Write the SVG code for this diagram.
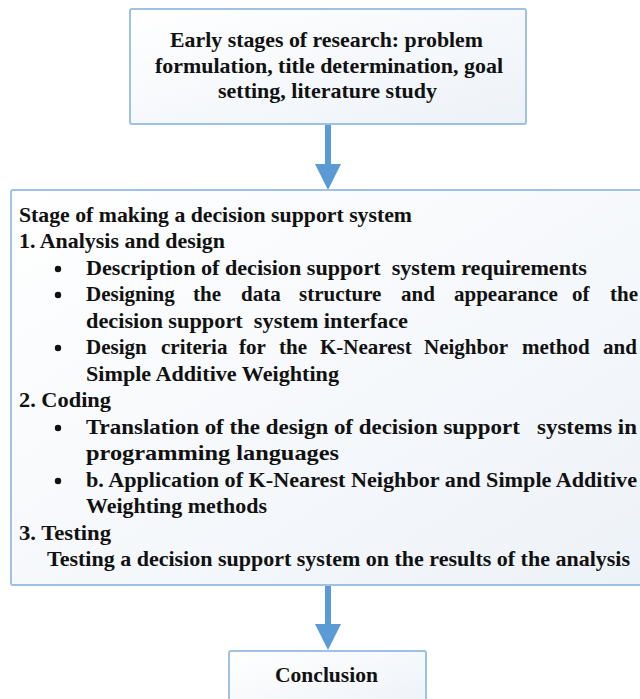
<svg xmlns="http://www.w3.org/2000/svg" width="640" height="699" viewBox="0 0 640 699">
<style>
.box{fill:url(#g);stroke:#9fc1e4;stroke-width:2}
.t{font-family:"Liberation Serif","Times New Roman",serif;font-weight:bold;font-size:21px;fill:#111}
.arr{stroke:#5b9bd5;stroke-width:6;stroke-linecap:round;fill:none}
.head{fill:#5b9bd5}
.b{fill:#111}
</style>
<defs>
<linearGradient id="g" x1="0" y1="0" x2="1" y2="1">
<stop offset="0" stop-color="#ffffff"/>
<stop offset="1" stop-color="#edf2f8"/>
</linearGradient>
</defs>
<rect width="640" height="699" fill="#ffffff"/>
<g id="connectors">
<line class="arr" x1="328" y1="125" x2="328" y2="166"/>
<polygon class="head" points="315,164 341,164 328,190"/>
<line class="arr" x1="328" y1="586" x2="328" y2="626"/>
<polygon class="head" points="315,624 341,624 328,650"/>
</g>
<g id="node-early">
<rect class="box" x="130" y="9" width="396" height="115" rx="2"/>
<text class="t" x="170" y="47" textLength="313" lengthAdjust="spacingAndGlyphs">Early stages of research: problem</text>
<text class="t" x="155" y="73" textLength="348" lengthAdjust="spacingAndGlyphs">formulation, title determination, goal</text>
<text class="t" x="218" y="98" textLength="219" lengthAdjust="spacingAndGlyphs">setting, literature study</text>
</g>
<g id="node-stage">
<rect class="box" x="11" y="190" width="642" height="395" rx="2"/>
<text class="t" x="19" y="222" textLength="393" lengthAdjust="spacingAndGlyphs">Stage of making a decision support system</text>
<text class="t" x="19" y="248" textLength="206" lengthAdjust="spacingAndGlyphs">1. Analysis and design</text>
<circle class="b" cx="58" cy="269" r="3.2"/>
<text class="t" x="86" y="275" textLength="501" lengthAdjust="spacingAndGlyphs" xml:space="preserve">Description of decision support  system requirements</text>
<circle class="b" cx="58" cy="295" r="3.2"/>
<text class="t" y="301"><tspan x="86">Designing</tspan> <tspan x="193">the</tspan> <tspan x="241">data</tspan> <tspan x="299">structure</tspan> <tspan x="401">and</tspan> <tspan x="454">appearance</tspan> <tspan x="572">of</tspan> <tspan x="610">the</tspan></text>
<text class="t" x="86" y="328" textLength="322" lengthAdjust="spacingAndGlyphs" xml:space="preserve">decision support  system interface</text>
<circle class="b" cx="58" cy="348" r="3.2"/>
<text class="t" y="354"><tspan x="86">Design</tspan> <tspan x="161">criteria</tspan> <tspan x="239">for</tspan> <tspan x="279">the</tspan> <tspan x="320">K-Nearest</tspan> <tspan x="424">Neighbor</tspan> <tspan x="522">method</tspan> <tspan x="603">and</tspan></text>
<text class="t" x="86" y="381" textLength="253" lengthAdjust="spacingAndGlyphs">Simple Additive Weighting</text>
<text class="t" x="19" y="407" textLength="92" lengthAdjust="spacingAndGlyphs">2. Coding</text>
<circle class="b" cx="58" cy="428" r="3.2"/>
<text class="t" x="86" y="434" textLength="551" lengthAdjust="spacingAndGlyphs" xml:space="preserve">Translation of the design of decision support   systems in</text>
<text class="t" x="86" y="460" textLength="253" lengthAdjust="spacingAndGlyphs">programming languages</text>
<circle class="b" cx="58" cy="481" r="3.2"/>
<text class="t" x="86" y="487" textLength="551" lengthAdjust="spacingAndGlyphs">b. Application of K-Nearest Neighbor and Simple Additive</text>
<text class="t" x="86" y="513" textLength="181" lengthAdjust="spacingAndGlyphs">Weighting methods</text>
<text class="t" x="19" y="540" textLength="92" lengthAdjust="spacingAndGlyphs">3. Testing</text>
<text class="t" x="47" y="566" textLength="583" lengthAdjust="spacingAndGlyphs">Testing a decision support system on the results of the analysis</text>
</g>
<g id="node-conclusion">
<rect class="box" x="229" y="651" width="197" height="60" rx="2"/>
<text class="t" x="275" y="682" textLength="103" lengthAdjust="spacingAndGlyphs">Conclusion</text>
</g>
</svg>
